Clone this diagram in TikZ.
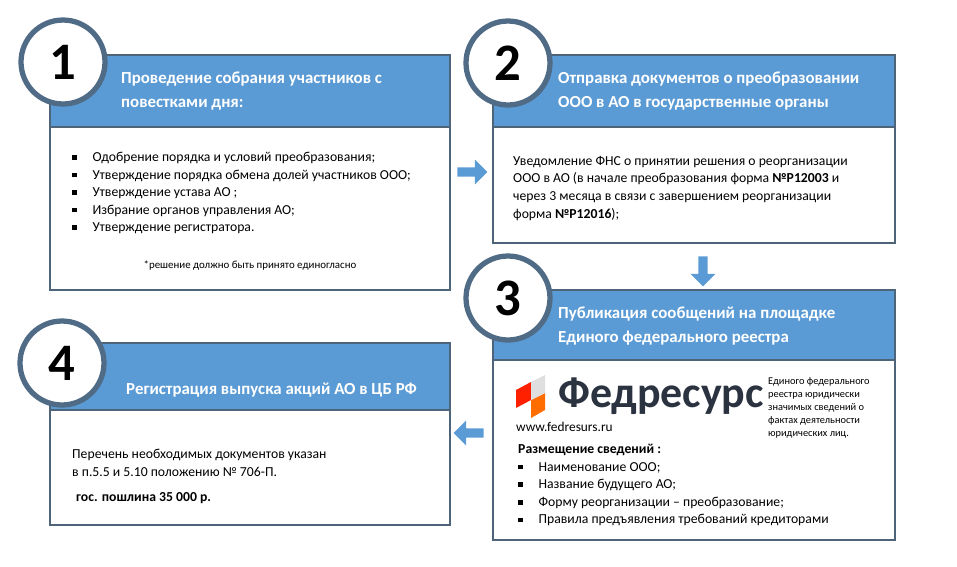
\documentclass[tikz,border=0pt]{standalone}
\usepackage{fontspec}
\setmainfont{Carlito}
\usetikzlibrary{positioning,arrows.meta,shapes.arrows}
\newcommand{\sqb}{\rule[1pt]{2.6pt}{2.6pt}\hspace{9pt}}

\begin{document}
\begin{tikzpicture}[x=0.02cm,y=-0.02cm,
    head_box/.style={
        fill=headblue,draw=frame,line width=1.6pt,
    },
    body_box/.style={
        fill=white,draw=frame,line width=1.6pt,
    },
    step_num/.style={
        draw=ringblue,fill=white,circle,line width=3pt,minimum size=1.68cm,
        font=\fontsize{30}{30}\selectfont\bfseries,
    },
    head_text/.style={
        text=white,font=\fontsize{9.6}{13.5}\selectfont\bfseries,align=left,anchor=west,
    },
    body_text/.style={
        font=\fontsize{7.8}{10}\selectfont,align=left,anchor=north west,
    },
    flow_arrow/.style={
        single arrow,fill=headblue,draw=none,minimum height=0.6cm,
        single arrow head extend=2pt,minimum width=0.5cm,inner sep=1pt,
    }
]
    \definecolor{headblue}{HTML}{5B9BD5}
    \definecolor{frame}{HTML}{4E6478}
    \definecolor{ringblue}{HTML}{4F6B85}
    \definecolor{fedgrey}{HTML}{2B3240}
    \useasboundingbox (0,0) rectangle (957,566);

    % step 1
    \draw[body_box] (50,127) rectangle (450,290);
    \draw[head_box] (50,55) rectangle (450,127);
    \node[step_num] (s1) at (63,62) {1};
    \node[head_text] (h1) at (115,91) {Проведение собрания участников с\\повестками дня:};
    \node[body_text] (b1) at (66,146) {\sqb Одобрение порядка и условий преобразования;\\
        \sqb Утверждение порядка обмена долей участников ООО;\\
        \sqb Утверждение устава АО ;\\
        \sqb Избрание органов управления АО;\\
        \sqb Утверждение регистратора.};
    \node[font=\fontsize{6.2}{8}\selectfont] (n1) at (250,266) {*решение должно быть принято единогласно};

    % step 2
    \draw[body_box] (493,127) rectangle (895,243);
    \draw[head_box] (493,55) rectangle (895,127);
    \node[step_num] (s2) at (508,63) {2};
    \node[head_text] (h2) at (552,91) {Отправка документов о преобразовании\\ООО в АО в государственные органы};
    \node[body_text] (b2) at (507,150) {Уведомление ФНС о принятии решения о реорганизации\\
        ООО в АО (в начале преобразования форма \textbf{№Р12003} и\\
        через 3 месяца в связи с завершением реорганизации\\
        форма \textbf{№Р12016});};

    % step 3
    \draw[body_box] (493,360) rectangle (895,540);
    \draw[head_box] (493,290) rectangle (895,360);
    \node[step_num] (s3) at (508,298) {3};
    \node[head_text] (h3) at (552,326) {Публикация сообщений на площадке\\Единого федерального реестра};
    \fill[red!75!orange] (516,390) -- (531,382) -- (531,400) -- (516,408) -- cycle;
    \fill[orange!85!red] (531,400) -- (545,393) -- (545,410) -- (531,418) -- cycle;
    \fill[gray!25] (531,382) -- (545,375) -- (545,393) -- (531,400) -- cycle;
    \node[anchor=west,text=fedgrey,font=\fontsize{25}{25}\selectfont\bfseries] (logo) at (552,396) {Федресурс};
    \node[anchor=west,font=\fontsize{7.6}{9}\selectfont] (url) at (510,427) {www.fedresurs.ru};
    \node[anchor=north west,align=left,font=\fontsize{5.9}{7.4}\selectfont] (fr) at (762,371)
        {Единого федерального\\реестра юридически\\значимых сведений о\\фактах деятельности\\юридических лиц.};
    \node[body_text] (b3) at (512,438) {\textbf{Размещение сведений :}\\
        \sqb Наименование ООО;\\
        \sqb Название будущего АО;\\
        \sqb Форму реорганизации – преобразование;\\
        \sqb Правила предъявления требований кредиторами};

    % step 4
    \draw[body_box] (50,410) rectangle (450,525);
    \draw[head_box] (50,343) rectangle (450,410);
    \node[step_num] (s4) at (62,363) {4};
    \node[head_text] (h4) at (120,390) {Регистрация выпуска акций АО в ЦБ РФ};
    \node[body_text] (b4) at (66,443) {Перечень необходимых документов указан\\в п.5.5 и 5.10 положению № 706-П.};
    \node[body_text,font=\fontsize{7.8}{10}\selectfont\bfseries] (fee) at (70,486) {гос. пошлина 35 000 р.};

    % arrows between steps
    \node[flow_arrow] (a12) at (470,172) {};
    \node[flow_arrow,rotate=-90] (a23) at (703,269) {};
    \node[flow_arrow,rotate=180] (a34) at (471,433) {};
\end{tikzpicture}
\end{document}
